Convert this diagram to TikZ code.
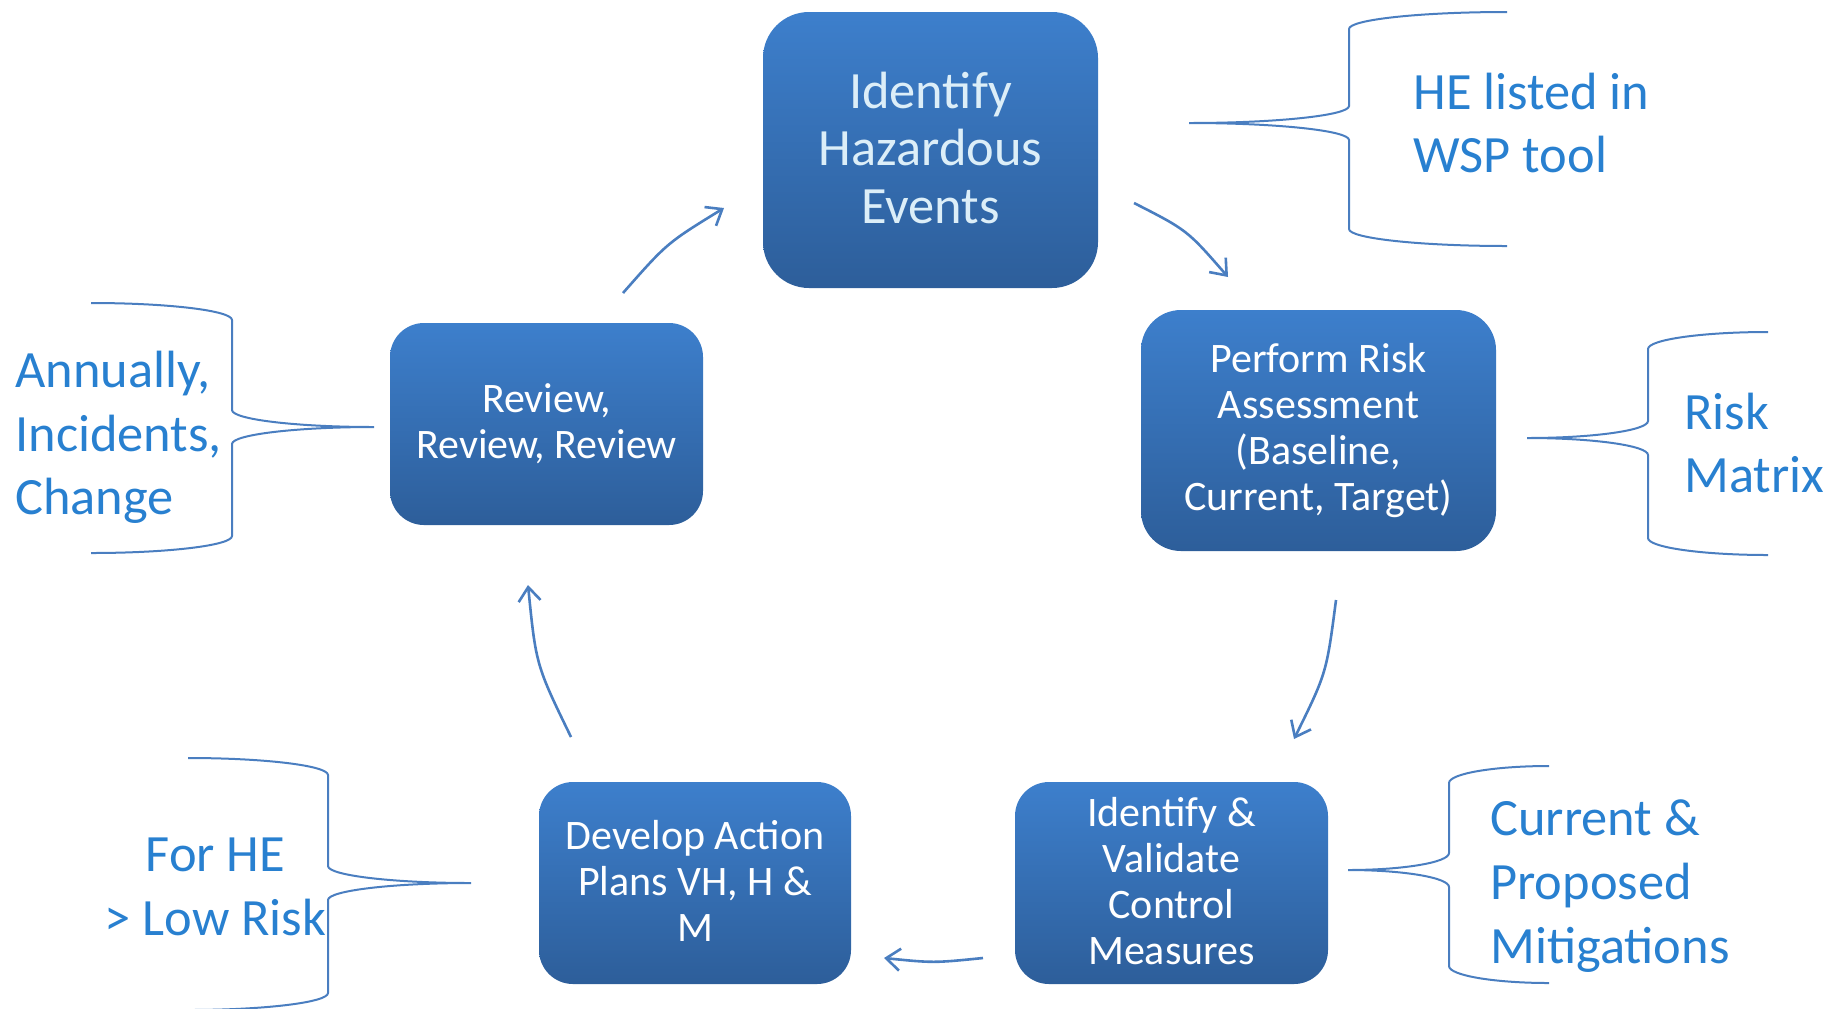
\documentclass[tikz,border=0pt]{standalone}
\usepackage{fontspec}
\setmainfont{Carlito}
\usetikzlibrary{arrows.meta}
\definecolor{boxtop}{RGB}{61,127,204}
\definecolor{boxbot}{RGB}{45,94,154}
\definecolor{linec}{RGB}{74,126,192}
\definecolor{notec}{RGB}{40,128,208}
\definecolor{lighttext}{RGB}{220,238,248}
\newcommand\mybrace[7]{%
 \draw[bracestyle] (#3,#4) .. controls ({#3+0.55*(#2-#3)},#4) and (#2,{#4+0.45*#7}) .. (#2,{#4+#7})
 -- (#2,{#5-#7}) .. controls (#2,{#5-0.45*#7}) and ({#1+0.55*(#2-#1)},#5) .. (#1,#5)
 .. controls ({#1+0.55*(#2-#1)},#5) and (#2,{#5+0.45*#7}) .. (#2,{#5+#7})
 -- (#2,{#6-#7}) .. controls (#2,{#6-0.45*#7}) and ({#3+0.55*(#2-#3)},#6) .. (#3,#6);}
\begin{document}
\begin{tikzpicture}[x=0.5pt,y=-0.5pt,
  procbox/.style={draw=none, top color=boxtop, bottom color=boxbot, text=white,
    align=center, inner sep=0pt, font=\fontsize{21}{23}\selectfont},
  note/.style={text=notec, inner sep=0pt, font=\fontsize{26.2}{31.8}\selectfont},
  conn/.style={draw=linec, line width=1.3pt, -{Straight Barb[length=7pt,width=11pt]}},
  bracestyle/.style={draw=linec, line width=1pt}]
\useasboundingbox (0,0) rectangle (1846,1008);

% process boxes
\node[procbox, minimum width=167.5pt, minimum height=138pt, rounded corners=23pt,
  text=lighttext, font=\fontsize{26.2}{28.75}\selectfont, text depth=2.4pt] (A) at (930.5,150) {Identify\\Hazardous\\Events};
\node[procbox, minimum width=177.5pt, minimum height=120.5pt, rounded corners=20pt] (B) at (1318.5,430.5)
  {Perform Risk\\Assessment\\(Baseline,\\Current, Target)};
\node[procbox, minimum width=156.5pt, minimum height=101pt, rounded corners=17pt, text depth=2.4pt] (C) at (1171.5,883)
  {Identify \&\\Validate\\Control\\Measures};
\node[procbox, minimum width=156pt, minimum height=101pt, rounded corners=17pt, text depth=2.4pt] (D) at (695,883)
  {Develop Action\\Plans VH, H \&\\M};
\node[procbox, minimum width=156.5pt, minimum height=101pt, rounded corners=17pt] (E) at (546.5,424)
  {Review,\\Review, Review};

% connectors
\coordinate (ab1) at (1134,203); \coordinate (ab2) at (1228,277);
\coordinate (bc1) at (1336,600); \coordinate (bc2) at (1294,739);
\coordinate (cd1) at (983,958);  \coordinate (cd2) at (884,958);
\coordinate (de1) at (571,737);  \coordinate (de2) at (528,585);
\coordinate (ea1) at (623,293);  \coordinate (ea2) at (724,208);
\draw[conn] (ab1) .. controls (1187.2,230.1) .. (ab2);
\draw[conn] (bc1) .. controls (1326.5,673) .. (bc2);
\draw[conn] (cd1) .. controls (933.5,963) .. (cd2);
\draw[conn] (de1) .. controls (536,665) .. (de2);
\draw[conn] (ea1) .. controls (667,243) .. (ea2);

% braces
\mybrace{1189}{1349}{1507}{12}{123}{246}{17}
\mybrace{1527}{1648}{1768}{332}{438}{555}{17}
\mybrace{374}{232}{91}{303}{427}{553}{17}
\mybrace{471}{328}{188}{758}{883}{1010}{17}
\mybrace{1348}{1449}{1549}{766}{870}{983}{17}

% notes
\node[note, anchor=west, align=left] (n1) at (1413,123) {HE listed in\\WSP tool};
\node[note, anchor=west, align=left] (n2) at (1684,443) {Risk\\Matrix};
\node[note, anchor=west, align=left] (n3) at (15,437.6) {Annually,\\Incidents,\\Change};
\node[note, align=center] (n4) at (215.5,887) {For HE\\> Low Risk};
\node[note, anchor=west, align=left] (n5) at (1490,886) {Current \&\\Proposed\\Mitigations};
\end{tikzpicture}
\end{document}
